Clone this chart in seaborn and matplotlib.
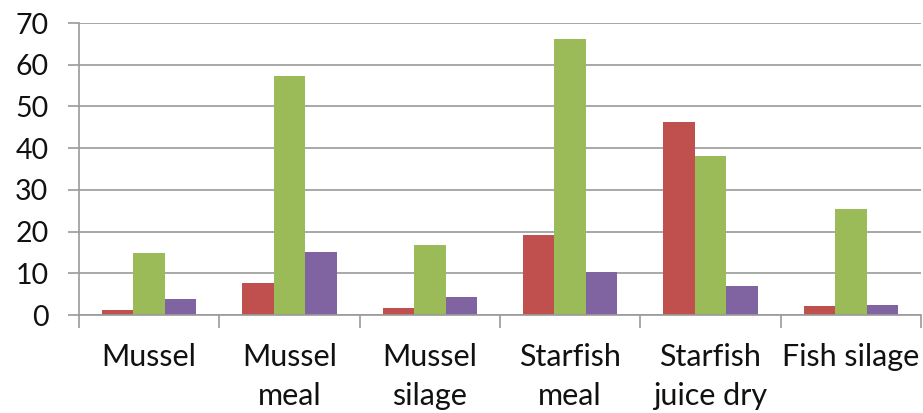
import matplotlib
matplotlib.use("Agg")
import matplotlib.pyplot as plt
import seaborn as sns
import pandas as pd
import numpy as np

categories = ["Mussel", "Mussel\nmeal", "Mussel\nsilage", "Starfish\nmeal", "Starfish\njuice dry", "Fish silage"]
series_names = ["Series 1", "Series 2", "Series 3"]
series_1 = [1.3, 7.6, 1.6, 19.2, 46.3, 2.2]
series_2 = [14.9, 57.4, 16.8, 66.1, 38.2, 25.4]
series_3 = [3.8, 15.1, 4.4, 10.3, 7.0, 2.4]
colors = ["#C0504D", "#9BBB59", "#8064A2"]
y_ticks = [0, 10, 20, 30, 40, 50, 60, 70]

rows = []
for name, vals in zip(series_names, [series_1, series_2, series_3]):
    for cat, v in zip(categories, vals):
        rows.append({"category": cat, "series": name, "value": v})
df = pd.DataFrame(rows)

sns.set_theme(style="white")
plt.rcParams["font.family"] = ["Lato", "DejaVu Sans"]

fig = plt.figure(figsize=(9.23, 4.13), dpi=100)
ax = fig.add_axes([79 / 923, 98 / 413, 842 / 923, 292 / 413])

sns.barplot(data=df, x="category", y="value", hue="series", order=categories,
            hue_order=series_names, palette=colors, width=0.67, gap=0,
            saturation=1, legend=False, ax=ax, linewidth=0)

grid_c = "#9A9A9A"
ax.set_ylim(0, 70)
ax.set_xlim(-0.5, len(categories) - 0.5)
ax.set_yticks(y_ticks)
ax.set_yticklabels([str(t) for t in y_ticks], fontsize=20.5, color="#111111")
ax.yaxis.grid(True, color=grid_c, linewidth=1.2)
ax.set_axisbelow(True)
ax.tick_params(axis="y", which="major", direction="out", length=8, width=1.2,
               color=grid_c, pad=14, left=True)

ax.set_xticks(range(len(categories)))
ax.set_xticklabels(categories, fontsize=22, color="#111111", linespacing=1.5)
ax.set_xticks(np.arange(-0.5, len(categories)), minor=True)
ax.tick_params(axis="x", which="major", length=0, pad=20)
ax.tick_params(axis="x", which="minor", direction="out", length=9, width=1.2,
               color=grid_c, bottom=True)

ax.set_xlabel("")
ax.set_ylabel("")
for side in ["top", "right"]:
    ax.spines[side].set_visible(False)
for side in ["left", "bottom"]:
    ax.spines[side].set_color(grid_c)
    ax.spines[side].set_linewidth(1.2)

fig.savefig("out.png", dpi=100)
